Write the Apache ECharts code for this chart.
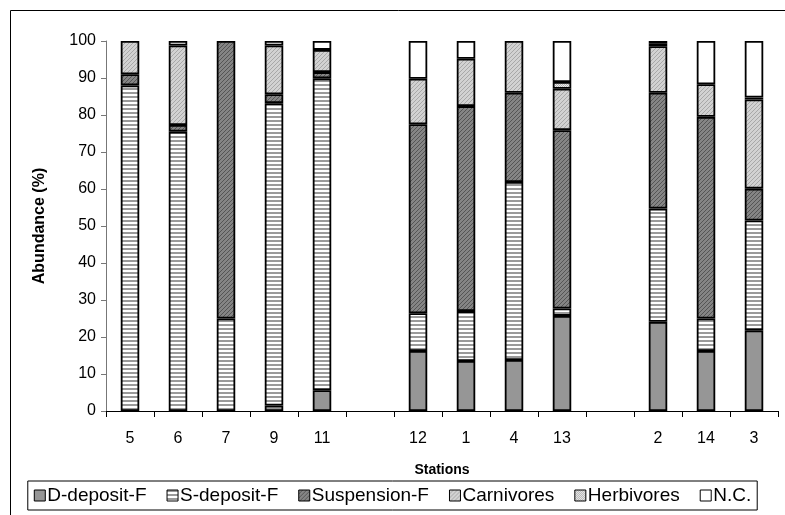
<!DOCTYPE html>
<html>
<head>
<meta charset="utf-8">
<script src="https://cdn.jsdelivr.net/npm/echarts@6/dist/echarts.min.js"></script>
<style>html,body{margin:0;padding:0;background:#fff}#c{width:785px;height:515px}</style>
</head>
<body>
<div id="c"></div>
<script>
var stations = ['5','6','7','9','11','','12','1','4','13','','2','14','3'];
var seriesNames = ['D-deposit-F','S-deposit-F','Suspension-F','Carnivores','Herbivores','N.C.'];
var dDeposit   = [0,   0,    0,  1.5, 5.6, null, 16.2, 13.5, 13.8, 25.7, null, 24.1, 16.2, 21.8];
var sDeposit   = [88,  75.5, 25, 81.7, 84.3, null, 10.2, 13.5, 48.1, 2.0, null, 30.6, 8.8, 29.7];
var suspension = [3,   1.8,  75, 2.4, 1.7, null, 51.1, 55.4, 24.1, 48.2, null, 31.3, 54.5, 8.6];
var carnivores = [9,   21.5, 0,  13.2, 6.0, null, 12.3, 12.8, 14.0, 11.2, null, 12.6, 8.8, 24.1];
var herbivores = [0,   0,    0,  0,   0,   null, 0,    0,    0,    1.8, null, 0.8, 0, 0.5];
var nc         = [0,   1.2,  0,  1.2, 2.4, null, 10.2, 4.8,  0,    11.1, null, 0.6, 11.7, 15.3];
var yTicks = {min: 0, max: 100, interval: 10};

function pattern(w, h, draw) {
  var c = document.createElement('canvas');
  c.width = w; c.height = h;
  var g = c.getContext('2d');
  draw(g, w, h);
  return {image: c, repeat: 'repeat'};
}
var fills = [
  '#969696',
  pattern(4, 4, function (g) { g.fillStyle = '#fff'; g.fillRect(0,0,4,4); g.fillStyle = '#9a9a9a'; g.fillRect(0,0,4,2); }),
  pattern(4, 4, function (g) { g.fillStyle = '#858585'; g.fillRect(0,0,4,4); g.fillStyle = '#555';
    for (var i = 0; i < 4; i++) g.fillRect(i, 3 - i, 1, 1); }),
  pattern(4, 4, function (g) { g.fillStyle = '#d2d2d2'; g.fillRect(0,0,4,4); g.fillStyle = '#a8a8a8';
    for (var i = 0; i < 4; i++) g.fillRect(i, 3 - i, 1, 1); }),
  pattern(2, 2, function (g) { g.fillStyle = '#ebebeb'; g.fillRect(0,0,2,2); g.fillStyle = '#b4b4b4';
    g.fillRect(0,0,1,1); g.fillRect(1,1,1,1); }),
  '#ffffff'
];
var allData = [dDeposit, sDeposit, suspension, carnivores, herbivores, nc];
var FONT = 'Liberation Sans, Arial, sans-serif';

var series = seriesNames.map(function (n, i) {
  return {
    name: n, type: 'bar', stack: 'total',
    data: allData[i].map(function (v) { return v === 0 ? null : v; }),
    barWidth: 18.5,
    itemStyle: {color: fills[i], borderColor: '#000', borderWidth: 1.8},
    emphasis: {disabled: true}
  };
});

var chart = echarts.init(document.getElementById('c'), null, {renderer: 'canvas'});
chart.setOption({
  animation: false,
  backgroundColor: '#fff',
  textStyle: {fontFamily: FONT},
  grid: {left: 106, right: 7, top: 41, bottom: 104, containLabel: false},
  graphic: [{
    type: 'rect', z: -1, silent: true,
    shape: {x: 10.5, y: 10.5, width: 800, height: 600},
    style: {fill: 'none', stroke: '#000', lineWidth: 1}
  }],
  legend: {
    data: seriesNames,
    left: 'center', top: 481,
    icon: 'rect', itemWidth: 11, itemHeight: 11, itemGap: 20,
    padding: [5, 6, 5, 6],
    borderColor: '#000', borderWidth: 1,
    itemStyle: {borderColor: '#000', borderWidth: 1},
    textStyle: {fontFamily: FONT, fontSize: 19, color: '#000', padding: [0, 0, 0, -3]}
  },
  xAxis: {
    type: 'category', data: stations,
    name: 'Stations', nameLocation: 'middle', nameGap: 52,
    nameTextStyle: {fontFamily: FONT, fontSize: 14, fontWeight: 'bold', color: '#000'},
    axisLine: {lineStyle: {color: '#000', width: 1}},
    axisTick: {show: true, alignWithLabel: false, length: 6, lineStyle: {color: '#000'}},
    axisLabel: {fontFamily: FONT, fontSize: 16, color: '#000', margin: 20, interval: 0},
    splitLine: {show: false}
  },
  yAxis: {
    type: 'value', min: yTicks.min, max: yTicks.max, interval: yTicks.interval,
    name: 'Abundance (%)', nameLocation: 'middle', nameGap: 58,
    nameTextStyle: {fontFamily: FONT, fontSize: 16, fontWeight: 'bold', color: '#000'},
    axisLine: {show: true, lineStyle: {color: '#777', width: 1}},
    axisTick: {show: true, inside: false, length: 5, lineStyle: {color: '#777'}},
    axisLabel: {fontFamily: FONT, fontSize: 16, color: '#000', margin: 10},
    splitLine: {show: false}
  },
  series: series
});
</script>
</body>
</html>
